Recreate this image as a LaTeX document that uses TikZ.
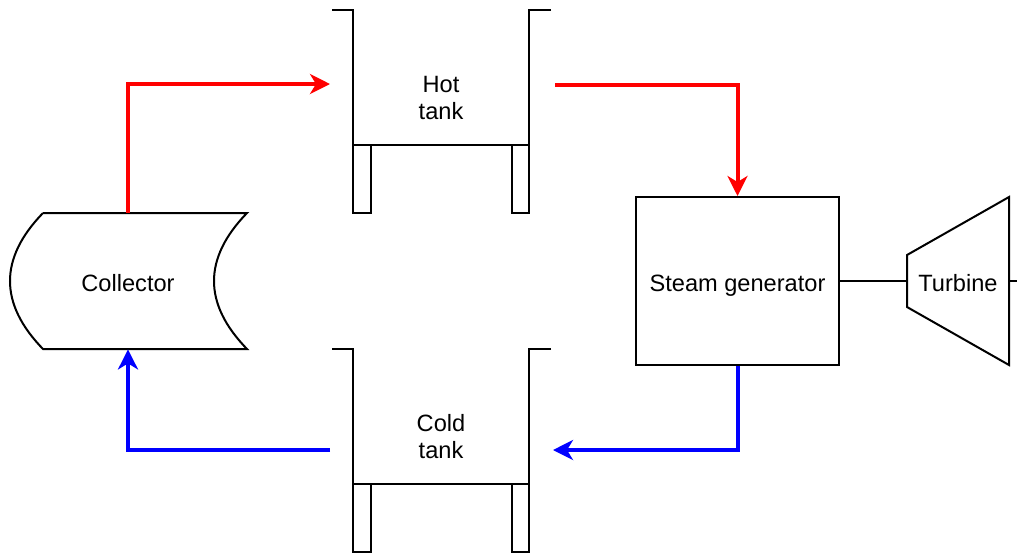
\documentclass[tikz,border=0pt]{standalone}
\usepackage{fontspec}
\setmainfont{Liberation Sans}
\usetikzlibrary{positioning,arrows.meta,calc}
\definecolor{hotred}{RGB}{255,0,0}
\definecolor{coldblue}{RGB}{0,0,255}
\tikzset{flow/.style={line width=2pt,draw=#1,-{Stealth[length=10pt,width=10pt,inset=3pt]}},
  part/.style={line width=1pt,draw=black},
  lbl/.style={text height=10.6pt,text depth=0pt}}
\newcommand{\tankshape}[1]{\begin{scope}[shift={#1}]
  \draw[part] (-21,0)--(0,0)--(0,203)--(18,203)--(18,135);
  \draw[part] (0,135)--(176,135);
  \draw[part] (198,0)--(176,0)--(176,203)--(159,203)--(159,135);
\end{scope}}
\begin{document}
\begin{tikzpicture}[x=0.5pt,y=-0.5pt,font=\fontsize{11.8}{13.5}\selectfont]
    \useasboundingbox (0,0) rectangle (1017,554);
    % collector
    \node[lbl,minimum width=118.5pt,minimum height=68pt,inner sep=0pt] (coll) at (128,281) {Collector};
    \draw[part] (43,213)--(247,213) .. controls (203,258.3) and (203,303.7) .. (247,349)
      --(43,349) .. controls (-1,303.7) and (-1,258.3) .. (43,213);
    % tanks
    \tankshape{(353,10)}
    \tankshape{(353,349)}
    \node[align=center] (hot) at (441,98) {Hot\\tank};
    \node[align=center] (cold) at (441,437) {Cold\\tank};
    \coordinate (hotin) at (330,84);
    \coordinate (hotout) at (555,85);
    \coordinate (coldin) at (553,450);
    \coordinate (coldout) at (330,450);
    % power block
    \node[part,lbl,minimum width=101.5pt,minimum height=84pt] (sg) at (737.5,281) {Steam generator};
    \node[lbl,minimum width=51pt,minimum height=84pt,inner sep=0pt] (turb) at (958,281) {Turbine};
    \draw[part] (907,255)--(1009,197)--(1009,365)--(907,307)--cycle;
    \coordinate (shaft) at (1017,281);
    \draw[part] (sg.east)--(turb.west);
    \draw[part] (turb.east)--(shaft);
    % loop
    \draw[flow=hotred] (coll.north) |- (hotin);
    \draw[flow=hotred] (hotout) -| (sg.north);
    \draw[flow=coldblue] (sg.south) |- (coldin);
    \draw[flow=coldblue] (coldout) -| (coll.south);
  \end{tikzpicture}
\end{document}
